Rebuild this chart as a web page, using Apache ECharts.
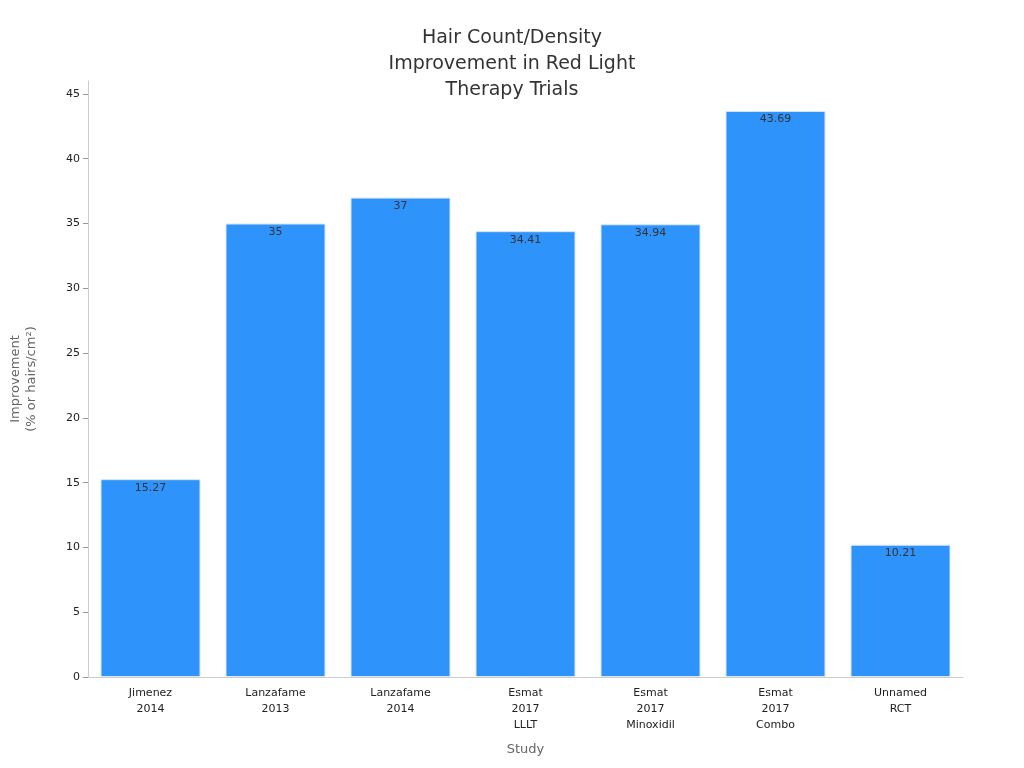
<!DOCTYPE html>
<html><head><meta charset="utf-8">
<script src="https://cdn.jsdelivr.net/npm/echarts@6/dist/echarts.min.js"></script>
<style>html,body{margin:0;padding:0;background:#fff}#c{width:1024px;height:768px}</style>
</head><body><div id="c"></div>
<script>
const categories = ["Jimenez\n2014","Lanzafame\n2013","Lanzafame\n2014","Esmat\n2017\nLLLT","Esmat\n2017\nMinoxidil","Esmat\n2017\nCombo","Unnamed\nRCT"];
const values = [15.27,35,37,34.41,34.94,43.69,10.21];
const chart = echarts.init(document.getElementById('c'));
chart.setOption({
  textStyle:{fontFamily:'DejaVu Sans'},
  title:{text:'Hair Count/Density\nImprovement in Red Light\nTherapy Trials',left:'center',top:20,
    textStyle:{fontSize:19,fontWeight:'normal',color:'#333',lineHeight:26,fontFamily:'DejaVu Sans'}},
  grid:{left:78,right:61,top:81,bottom:91},
  xAxis:{type:'category',data:categories,name:'Study',nameLocation:'middle',nameGap:66,
    nameTextStyle:{color:'#666',fontSize:13},
    axisLine:{lineStyle:{color:'#ccc'}},axisTick:{alignWithLabel:true,lineStyle:{color:'#999'}},
    axisLabel:{color:'#222',fontSize:11,lineHeight:16,interval:0}},
  yAxis:{type:'value',min:0,max:46,interval:5,name:'Improvement\n(% or hairs/cm²)',nameLocation:'middle',nameGap:48,
    nameTextStyle:{color:'#666',fontSize:13,lineHeight:16},
    axisLine:{show:true,lineStyle:{color:'#ccc'}},axisTick:{show:true,lineStyle:{color:'#999'}},
    splitLine:{show:false},axisLabel:{color:'#222',fontSize:11,showMaxLabel:false}},
  series:[{type:'bar',data:values,barWidth:'80%',
    itemStyle:{color:'#2E93FA',borderColor:'#d8e6f5',borderWidth:1},
    label:{show:true,position:'insideTop',color:'#333',fontSize:11,offset:[0,-2]}}]
});
</script></body></html>
